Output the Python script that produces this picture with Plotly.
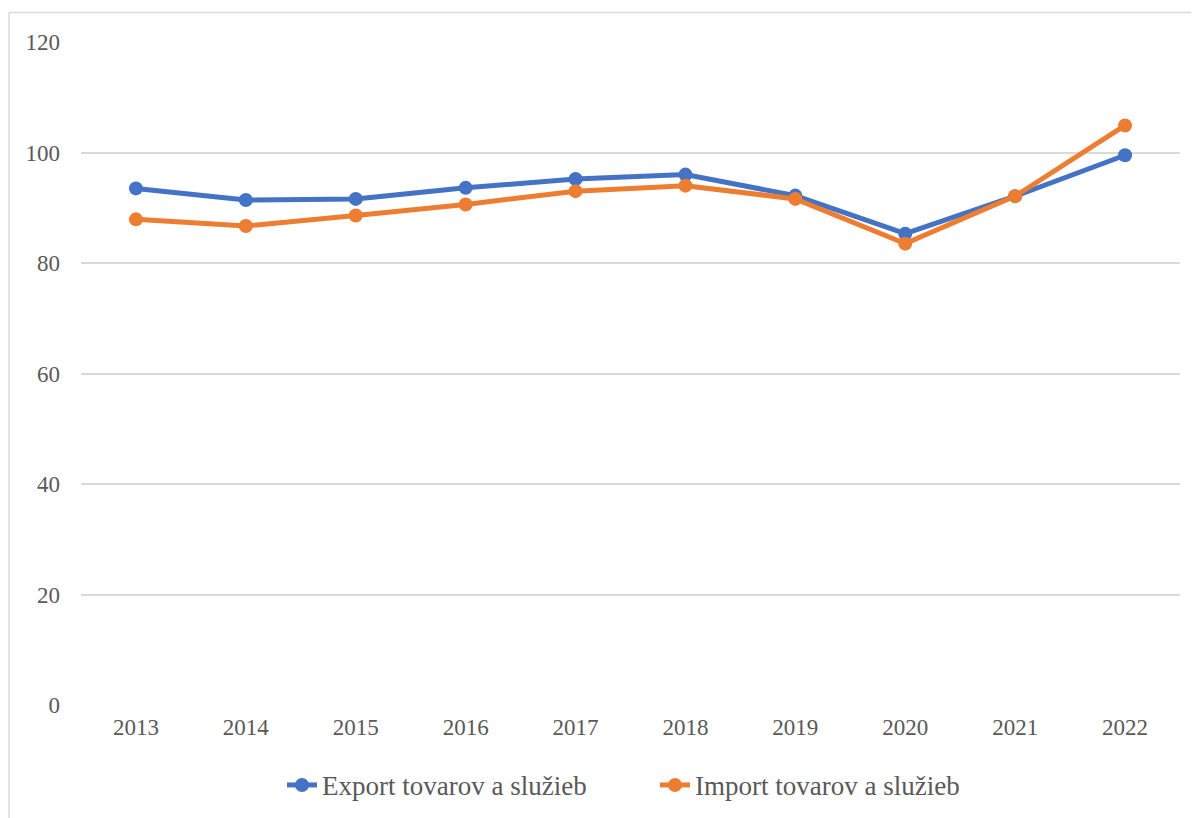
import plotly.graph_objects as go

years = ["2013", "2014", "2015", "2016", "2017", "2018", "2019", "2020", "2021", "2022"]
export_vals = [93.5, 91.4, 91.6, 93.6, 95.2, 96.0, 92.2, 85.3, 92.1, 99.5]
import_vals = [87.9, 86.7, 88.6, 90.6, 93.0, 94.0, 91.6, 83.5, 92.1, 104.9]
y_ticks = [0, 20, 40, 60, 80, 100, 120]

FONT = "Liberation Serif, Times New Roman, serif"
TXT = "#595959"

fig = go.Figure()
fig.add_trace(go.Scatter(
    x=years, y=export_vals, name="Export tovarov a služieb",
    mode="lines+markers",
    line=dict(color="#4472C4", width=5),
    marker=dict(color="#4472C4", size=14),
))
fig.add_trace(go.Scatter(
    x=years, y=import_vals, name="Import tovarov a služieb",
    mode="lines+markers",
    line=dict(color="#ED7D31", width=5),
    marker=dict(color="#ED7D31", size=14),
))

# page body has an 8px margin; compensate
OFF = 8
W, H = 1199 - OFF, 818 - OFF
L, T = 81 - OFF, 41.5 - OFF
pw, ph = 1099, 664
R = W - L - pw
B = H - T - ph

def px_x(x):
    return (x - OFF - L) / pw

def px_y(y):
    return (T + ph - (y - OFF)) / ph

# outer chart border (light gray), top and left edges visible
fig.add_shape(type="rect", xref="paper", yref="paper",
              x0=px_x(9), x1=px_x(1215),
              y0=px_y(840), y1=px_y(12),
              line=dict(color="#D9D9D9", width=1.5), fillcolor="rgba(0,0,0,0)",
              layer="below")

fig.update_layout(
    width=W, height=H,
    margin=dict(l=L, r=R, t=T, b=B, autoexpand=False),
    paper_bgcolor="white", plot_bgcolor="white",
    font=dict(family=FONT, color=TXT, size=23),
    showlegend=True,
    legend=dict(orientation="h", x=px_x(282), xanchor="left",
                y=px_y(786), yanchor="middle",
                font=dict(family=FONT, size=27, color=TXT),
                entrywidth=328, entrywidthmode="pixels", tracegroupgap=0),
    xaxis=dict(type="category", range=[-0.5, 9.5], showgrid=False,
               showline=False, zeroline=False, ticks="",
               tickfont=dict(family=FONT, size=23, color=TXT), ticklabelstandoff=6),
    yaxis=dict(range=[0, 120], tickvals=y_ticks, showgrid=True,
               gridcolor="#D9D9D9", gridwidth=1.5, zeroline=False,
               showline=False, ticks="",
               tickfont=dict(family=FONT, size=23, color=TXT), ticklabelstandoff=20),
)

fig.write_html("out.html")
